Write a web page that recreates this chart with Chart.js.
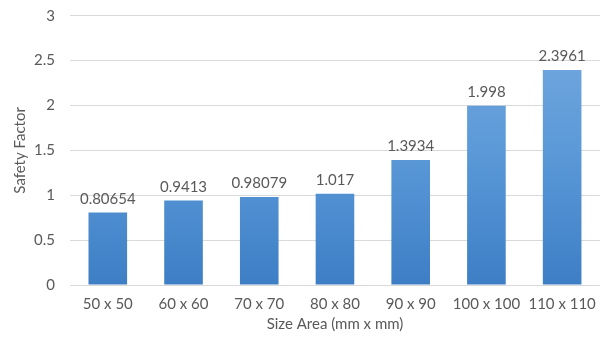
<!DOCTYPE html>
<html>
<head>
<meta charset="utf-8">
<script src="https://cdn.jsdelivr.net/npm/chart.js@4/dist/chart.umd.min.js"></script>
<style>
  html, body { margin: 0; padding: 0; background: #fff; }
  #wrap { width: 601px; height: 339px; }
</style>
</head>
<body>
<div id="wrap"><canvas id="c" width="601" height="339"></canvas></div>
<script>
const categories = ['50 x 50', '60 x 60', '70 x 70', '80 x 80', '90 x 90', '100 x 100', '110 x 110'];
const safetyFactor = [0.80654, 0.9413, 0.98079, 1.017, 1.3934, 1.998, 2.3961];
const valueLabels = ['0.80654', '0.9413', '0.98079', '1.017', '1.3934', '1.998', '2.3961'];
const yTicks = [0, 0.5, 1, 1.5, 2, 2.5, 3];

const FONT = 'Lato, "Open Sans", "Liberation Sans", sans-serif';
const FSIZE = 15;
const TEXT = '#595959';

// vertical blue gradient for each bar, lighter at the top
function barFill(ctx) {
  const chart = ctx.chart;
  const area = chart.chartArea;
  if (!area) return '#5b9bd5';
  const y = chart.scales.y;
  const g = chart.ctx.createLinearGradient(0, y.getPixelForValue(3), 0, y.getPixelForValue(0));
  g.addColorStop(0, '#78abe0');
  g.addColorStop(0.5, '#5b99d8');
  g.addColorStop(1, '#3d7ec5');
  return g;
}

// value text above each bar
const valueLabelPlugin = {
  id: 'valueLabels',
  afterDatasetsDraw(chart) {
    const c = chart.ctx;
    const meta = chart.getDatasetMeta(0);
    c.save();
    c.font = FSIZE + 'px ' + FONT;
    c.fillStyle = TEXT;
    c.textAlign = 'center';
    c.textBaseline = 'bottom';
    meta.data.forEach((bar, i) => {
      c.fillText(valueLabels[i], bar.x, bar.y - 6);
    });
    c.restore();
  }
};

new Chart(document.getElementById('c'), {
  type: 'bar',
  data: {
    labels: categories,
    datasets: [{
      data: safetyFactor,
      backgroundColor: barFill,
      borderWidth: 0,
      barPercentage: 0.51,
      categoryPercentage: 1.0
    }]
  },
  options: {
    responsive: false,
    animation: false,
    devicePixelRatio: 1,
    layout: { padding: { left: 11, right: 1, top: 0, bottom: 6 } },
    plugins: { legend: { display: false }, tooltip: { enabled: false } },
    scales: {
      x: {
        grid: { display: false },
        border: { display: false },
        ticks: { color: TEXT, font: { family: FONT, size: FSIZE }, padding: 2 },
        title: { display: true, text: 'Size Area (mm x mm)', color: TEXT, font: { family: FONT, size: FSIZE }, padding: { top: 0, bottom: 0 } }
      },
      y: {
        min: 0,
        max: 3,
        afterBuildTicks(axis) { axis.ticks = yTicks.map(v => ({ value: v })); },
        grid: { color: '#d9d9d9', lineWidth: 1, drawTicks: false },
        border: { display: false },
        ticks: { color: TEXT, font: { family: FONT, size: FSIZE, lineHeight: 0.1 }, padding: 15, callback: v => String(v) },
        title: { display: true, text: 'Safety Factor', color: TEXT, font: { family: FONT, size: FSIZE }, padding: { top: 0, bottom: -10 } }
      }
    }
  },
  plugins: [valueLabelPlugin]
});
</script>
</body>
</html>
